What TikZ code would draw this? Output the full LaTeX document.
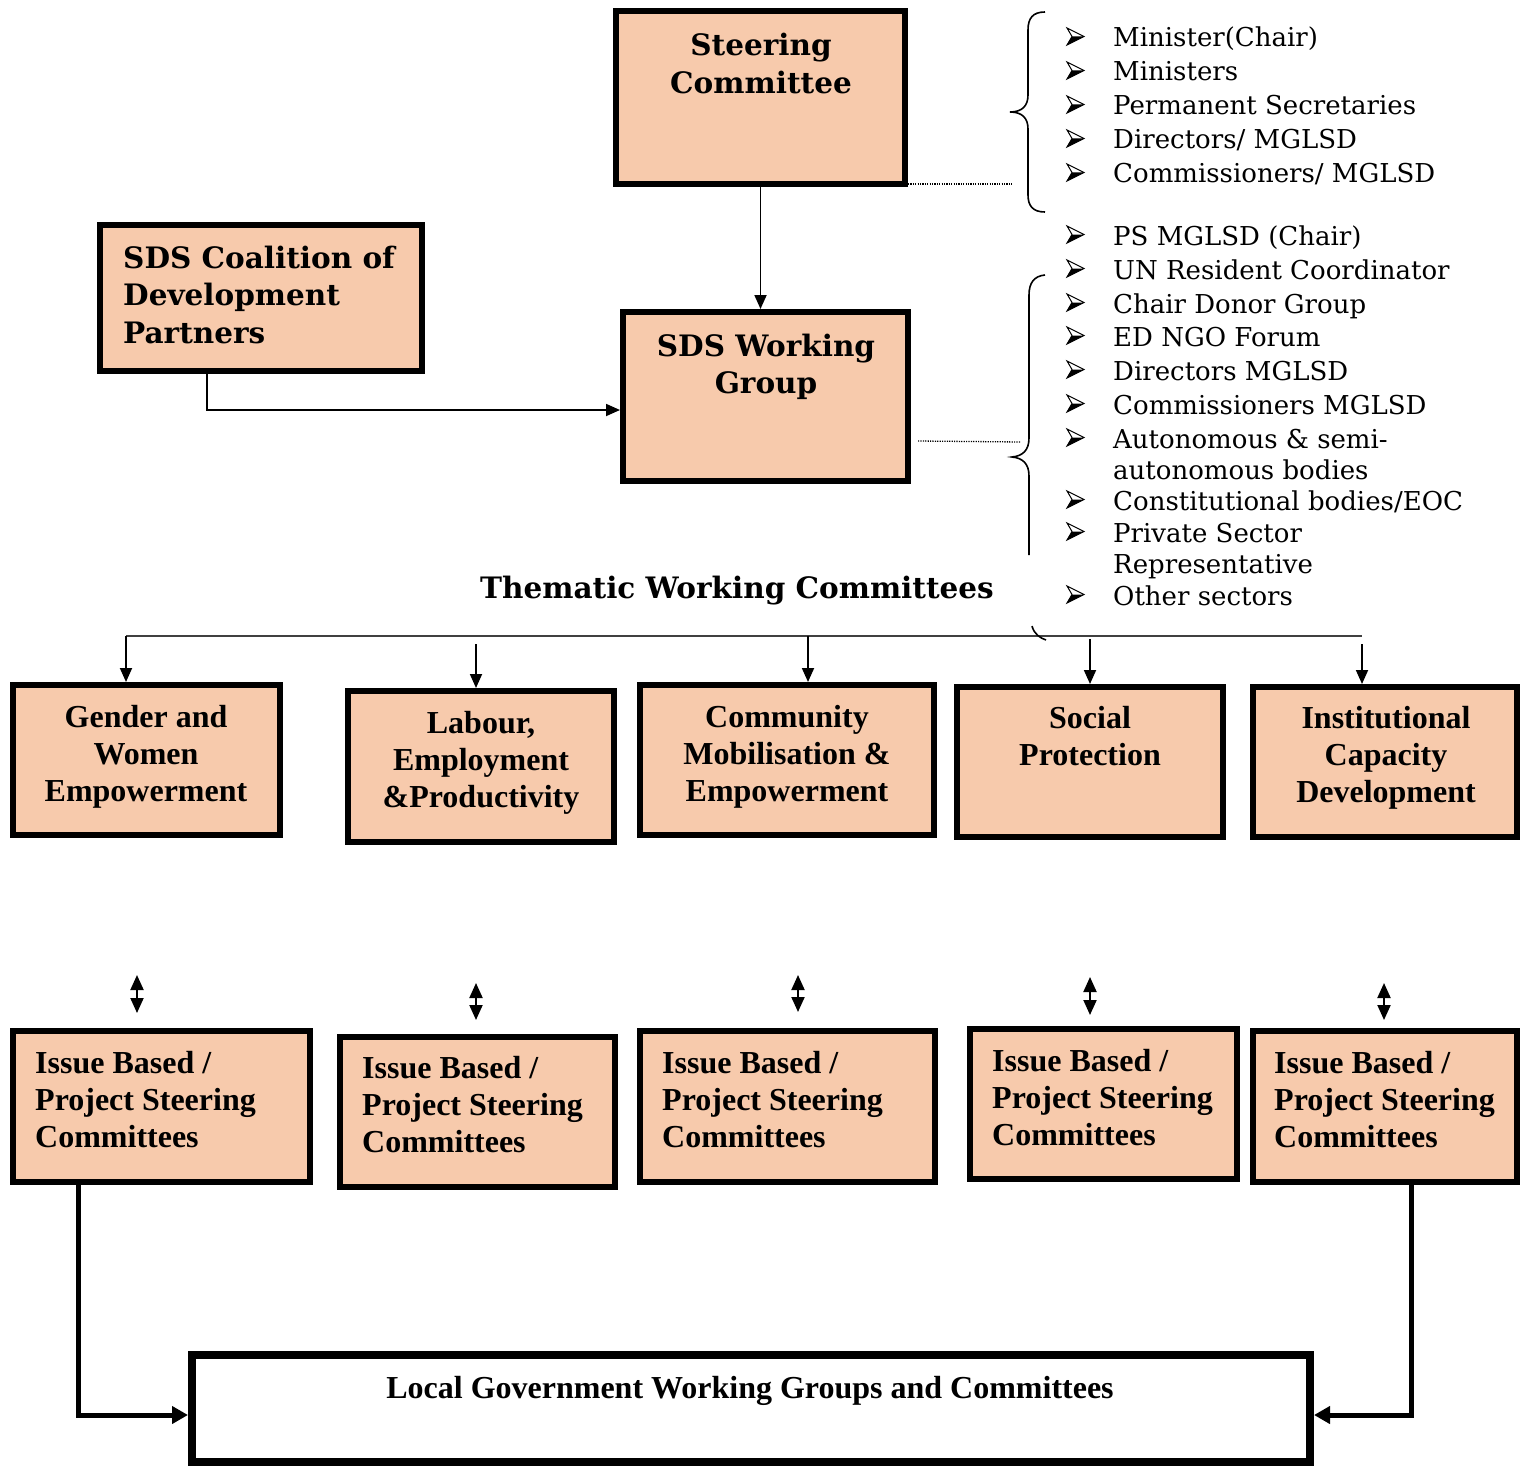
\documentclass[tikz,border=0pt]{standalone}
\usepackage{fontspec}
\usetikzlibrary{arrows.meta}
\newfontfamily\tnrfont{Liberation Serif}
\newfontfamily\bkfont{DejaVu Serif}
\definecolor{peach}{HTML}{F7CAAC}
\newcommand\BkB{\bkfont\bfseries\fontsize{29.5}{37.5}\selectfont}
\newcommand\BkR{\bkfont\fontsize{26}{31}\selectfont}
\newcommand\TmB{\tnrfont\bfseries\fontsize{32}{37}\selectfont}
\newcommand\CL[1]{\begin{tabular}[t]{@{}c@{}}#1\end{tabular}}
\newcommand\LL[1]{\begin{tabular}[t]{@{}l@{}}#1\end{tabular}}
\begin{document}
\begin{tikzpicture}[x=1pt,y=-1pt,
  box/.style={draw=black, fill=peach, line width=6pt, inner sep=0pt, anchor=north west},
  txt/.style={inner sep=0pt, anchor=base},
  ltxt/.style={inner sep=0pt, anchor=base west},
  thinarrow/.style={line width=1.8pt, -{Triangle[length=14pt,width=12pt]}},
  thickarrow/.style={line width=5pt, line join=miter, -{Triangle[length=16pt,width=17pt]}},
  dblarrow/.style={line width=2pt, {Triangle[length=15pt,width=13pt]}-{Triangle[length=15pt,width=13pt]}},
  hline/.style={line width=1.3pt, draw=black!75},
  dotline/.style={line width=1.3pt, dash pattern=on 1.2pt off 1.2pt},
  bracestyle/.style={line width=1.6pt},
  bulpic/.pic={
    \filldraw[fill=white, line width=1pt, line join=miter] (0,-19) -- (17,-10.5) -- (0,-2) -- (5,-10.5) -- cycle;
    \fill (5,-10.5) -- (17,-10.5) -- (0,-2) -- cycle;
  }
]
\useasboundingbox (0,0) rectangle (1520,1466);
\fill[white] (0,0) rectangle (1520,1466);

% top boxes
\node[box, minimum width=289pt, minimum height=173pt] (sc) at (613,8) {};
\node[box, minimum width=285pt, minimum height=169pt] (wg) at (620,309) {};
\node[box, minimum width=322pt, minimum height=146pt] (co) at (97,222) {};
\node[txt] (sct) at (761,56) {\BkB\CL{Steering\\Committee}};
\node[txt] (wgt) at (766,356) {\BkB\CL{SDS Working\\Group}};
\node[ltxt] (cot) at (123,268) {\BkB\LL{SDS Coalition of\\Development\\Partners}};
\node[txt] (twc) at (737,598) {\BkB Thematic Working Committees};

% thematic boxes
\node[box, minimum width=267pt, minimum height=150pt] (t1) at (10,682) {};
\node[box, minimum width=266pt, minimum height=151pt] (t2) at (345,688) {};
\node[box, minimum width=294pt, minimum height=150pt] (t3) at (637,682) {};
\node[box, minimum width=266pt, minimum height=150pt] (t4) at (954,684) {};
\node[box, minimum width=264pt, minimum height=150pt] (t5) at (1250,684) {};
\node[txt] (t1t) at (146,727) {\TmB\CL{Gender and\\Women\\Empowerment}};
\node[txt] (t2t) at (481,733) {\TmB\CL{Labour,\\Employment\\\&Productivity}};
\node[txt] (t3t) at (787,727) {\TmB\CL{Community\\Mobilisation \&\\Empowerment}};
\node[txt] (t4t) at (1090,728) {\TmB\CL{Social\\Protection}};
\node[txt] (t5t) at (1386,728) {\TmB\CL{Institutional\\Capacity\\Development}};

% issue boxes
\node[box, minimum width=297pt, minimum height=151pt] (i1) at (10,1028) {};
\node[box, minimum width=275pt, minimum height=150pt] (i2) at (337,1034) {};
\node[box, minimum width=295pt, minimum height=151pt] (i3) at (637,1028) {};
\node[box, minimum width=267pt, minimum height=150pt] (i4) at (967,1026) {};
\node[box, minimum width=264pt, minimum height=151pt] (i5) at (1250,1028) {};
\node[ltxt] (i1t) at (35,1073) {\TmB\LL{Issue Based /\\Project Steering\\Committees}};
\node[ltxt] (i2t) at (362,1078) {\TmB\LL{Issue Based /\\Project Steering\\Committees}};
\node[ltxt] (i3t) at (662,1073) {\TmB\LL{Issue Based /\\Project Steering\\Committees}};
\node[ltxt] (i4t) at (992,1071) {\TmB\LL{Issue Based /\\Project Steering\\Committees}};
\node[ltxt] (i5t) at (1274,1073) {\TmB\LL{Issue Based /\\Project Steering\\Committees}};

% local government box
\node[draw=black, fill=white, line width=8pt, inner sep=0pt, anchor=north west,
      minimum width=1118pt, minimum height=107pt] (lg) at (188,1351) {};
\node[txt] (lgt) at (750,1398) {\TmB Local Government Working Groups and Committees};

% connectors top
\draw[thinarrow] (sc.south) -- (sc.south |- wg.north);
\coordinate (cc) at (207,410);
\draw[thinarrow] (co.south -| cc) -- (cc) -- (cc -| wg.west);

% thematic distribution line
\coordinate (hl) at (126,636);
\coordinate (hr) at (1362,636);
\draw[hline] (hl) -- (hr);
\coordinate (a2) at (476,644);
\coordinate (a3) at (808,636);
\coordinate (a4) at (1090,639);
\coordinate (a5) at (1362,644);
\draw[thinarrow] (hl) -- (hl |- t1.north);
\draw[thinarrow] (a2) -- (a2 |- t2.north);
\draw[thinarrow] (a3) -- (a3 |- t3.north);
\draw[thinarrow] (a4) -- (a4 |- t4.north);
\draw[thinarrow] (a5) -- (a5 |- t5.north);

% double arrows
\coordinate (d1a) at (137,975);  \coordinate (d1b) at (137,1013);
\coordinate (d2a) at (476,983);  \coordinate (d2b) at (476,1020);
\coordinate (d3a) at (798,975);  \coordinate (d3b) at (798,1012);
\coordinate (d4a) at (1090,977); \coordinate (d4b) at (1090,1015);
\coordinate (d5a) at (1384,983); \coordinate (d5b) at (1384,1020);
\draw[dblarrow] (d1a) -- (d1b);
\draw[dblarrow] (d2a) -- (d2b);
\draw[dblarrow] (d3a) -- (d3b);
\draw[dblarrow] (d4a) -- (d4b);
\draw[dblarrow] (d5a) -- (d5b);

% bottom connectors
\coordinate (lc) at (78,1415);
\coordinate (rc) at (1411,1415);
\draw[thickarrow] (i1.south -| lc) -- (lc) -- (lc -| lg.west);
\draw[thickarrow] (i5.south -| rc) -- (rc) -- (rc -| lg.east);

% dotted lines
\coordinate (dt1) at (1012,184);
\draw[dotline] (sc.south east |- dt1) -- (dt1);
\coordinate (dt2a) at (918,441);
\coordinate (dt2b) at (1020,442);
\draw[dotline] (dt2a) -- (dt2b);

% braces
\draw[bracestyle] (1045,12) .. controls (1033,12) and (1028,18) .. (1028,30) -- (1028,95)
  .. controls (1028,106) and (1022,112) .. (1010,112)
  .. controls (1022,112) and (1028,118) .. (1028,129) -- (1028,195)
  .. controls (1028,206) and (1033,212) .. (1045,212);
\draw[bracestyle] (1045,275) .. controls (1034,276) and (1029,283) .. (1029,295) -- (1029,438)
  .. controls (1029,450) and (1023,456) .. (1012,457)
  .. controls (1023,458) and (1029,464) .. (1029,476) -- (1029,555);
\draw[bracestyle] (1032,626) .. controls (1034,634) and (1040,638) .. (1046,640);

% member lists
\foreach \y/\t [count=\i] in {47/{Minister(Chair)}, 81/{Ministers}, 115/{Permanent Secretaries},
   149/{Directors/ MGLSD}, 183/{Commissioners/ MGLSD}} {
  \pic at (1067,\y) {bulpic};
  \node[ltxt] (la\i) at (1113,\y) {\BkR \t};
}
\foreach \y/\t [count=\i] in {245/{PS MGLSD (Chair)}, 279/{UN Resident Coordinator},
   313/{Chair Donor Group}, 346/{ED NGO Forum}, 380/{Directors MGLSD},
   414/{Commissioners MGLSD}, 448/{Autonomous \& semi-}, 510/{Constitutional bodies/EOC},
   542/{Private Sector}, 605/{Other sectors}} {
  \pic at (1067,\y) {bulpic};
  \node[ltxt] (lb\i) at (1113,\y) {\BkR \t};
}
\node[ltxt] (lbx1) at (1113,479) {\BkR autonomous bodies};
\node[ltxt] (lbx2) at (1113,573) {\BkR Representative};
\end{tikzpicture}
\end{document}
